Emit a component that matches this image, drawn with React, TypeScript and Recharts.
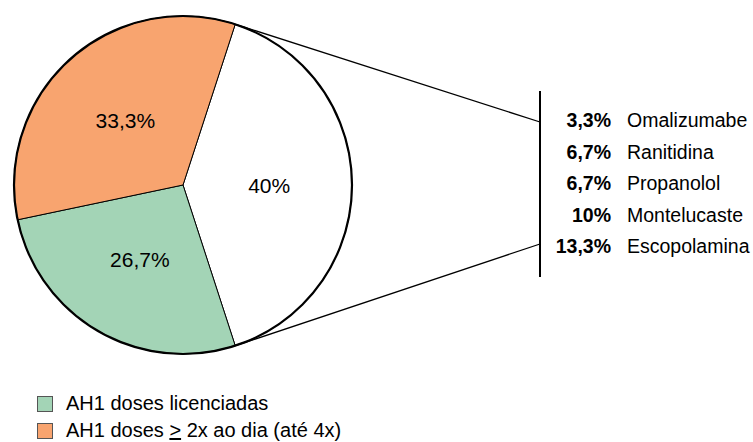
import { PieChart, Pie, Cell, Legend } from 'recharts'

const sliceNames = ['Outros', 'AH1 doses licenciadas', 'AH1 doses ≥ 2x ao dia (até 4x)']
const sliceValues = [40, 26.7, 33.3]
const sliceLabels = ['40%', '26,7%', '33,3%']

const breakdownNames = ['Omalizumabe', 'Ranitidina', 'Propanolol', 'Montelucaste', 'Escopolamina']
const breakdownLabels = ['3,3%', '6,7%', '6,7%', '10%', '13,3%']

const COLORS = [
  '#FFFFFF', // other drugs
  '#A3D4B6', // green
  '#F8A46F' // orange
]

const FONT = '"Liberation Sans", Arial, Helvetica, sans-serif'
const WIDTH = 753
const HEIGHT = 442
const CX = 183
const CY = 185
const R = 169
const START = 72

const pieData = sliceNames.map((name, i) => ({ name, value: sliceValues[i], label: sliceLabels[i] }))

const RAD = Math.PI / 180

const renderLabel = (props: any) => {
  const { cx, cy, midAngle, outerRadius, index } = props
  const d = outerRadius * 0.51
  const x = cx + d * Math.cos(-midAngle * RAD)
  const y = cy + d * Math.sin(-midAngle * RAD)
  return (
    <text x={x} y={y} textAnchor='middle' dominantBaseline='central' fontSize={21} fontFamily={FONT} fill='#000'>
      {sliceLabels[index]}
    </text>
  )
}

const renderLegend = () => (
  <div style={{ fontFamily: FONT, fontSize: 20, color: '#000' }}>
    {sliceNames.slice(1).map((name, i) => (
      <div key={name} style={{ display: 'flex', alignItems: 'center', height: 27 }}>
        <span
          style={{
            display: 'inline-block',
            width: 14,
            height: 14,
            background: COLORS[i + 1],
            border: '1px solid #555',
            marginRight: 13
          }}
        />
        {i === 1 ? (
          <span>
            AH1 doses <span style={{ textDecoration: 'underline' }}>&gt;</span> 2x ao dia (até 4x)
          </span>
        ) : (
          <span>{name}</span>
        )}
      </div>
    ))}
  </div>
)

export default function App() {
  const bracketX = 540
  const topX = CX + R * Math.cos(START * RAD)
  const topY = CY - R * Math.sin(START * RAD)
  const botY = CY + R * Math.sin(START * RAD)
  const rowTop = 120
  const rowGap = 31.5

  return (
    <div style={{ position: 'absolute', left: 0, top: 0, width: WIDTH, height: HEIGHT, background: '#fff' }}>
      <PieChart width={WIDTH} height={HEIGHT} margin={{ top: 0, right: 0, bottom: 0, left: 0 }}>
        <Pie
          data={pieData}
          dataKey='value'
          nameKey='name'
          cx={CX}
          cy={CY}
          outerRadius={R}
          startAngle={START}
          endAngle={START - 360}
          stroke='#000'
          strokeWidth={1}
          label={renderLabel}
          labelLine={false}
          isAnimationActive={false}
        >
          {pieData.map((_, i) => (
            <Cell key={i} fill={COLORS[i]} />
          ))}
        </Pie>
        <Legend
          content={renderLegend}
          layout='horizontal'
          verticalAlign='bottom'
          align='left'
          wrapperStyle={{ left: 37, top: 390, bottom: 'auto', width: 400 }}
        />
      </PieChart>
      <svg
        width={WIDTH}
        height={HEIGHT}
        style={{ position: 'absolute', left: 0, top: 0, pointerEvents: 'none' }}
      >
        <circle cx={CX} cy={CY} r={R} fill='none' stroke='#000' strokeWidth={2.2} />
        <line x1={topX} y1={topY} x2={bracketX} y2={122} stroke='#000' strokeWidth={1.3} />
        <line x1={topX} y1={botY} x2={bracketX} y2={244} stroke='#000' strokeWidth={1.3} />
        <line x1={bracketX} y1={91} x2={bracketX} y2={277} stroke='#000' strokeWidth={2} />
        {breakdownNames.map((name, i) => (
          <g key={name} fontFamily={FONT} fontSize={19.5} fill='#000'>
            <text x={611} y={rowTop + i * rowGap} textAnchor='end' dominantBaseline='central' fontWeight='bold'>
              {breakdownLabels[i]}
            </text>
            <text x={627} y={rowTop + i * rowGap} dominantBaseline='central'>
              {name}
            </text>
          </g>
        ))}
      </svg>
    </div>
  )
}
